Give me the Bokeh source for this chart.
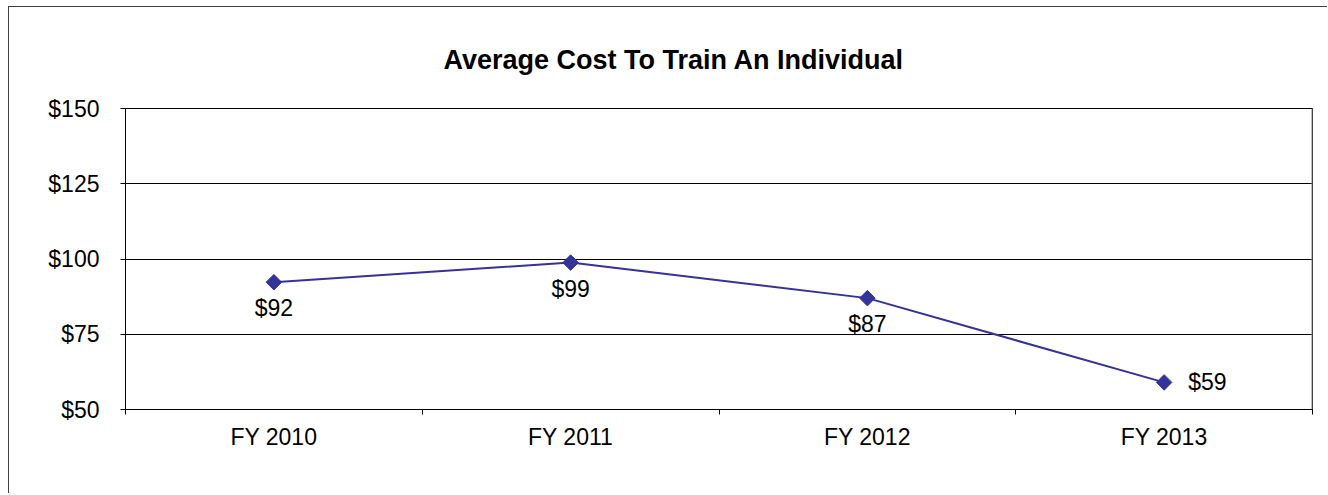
from bokeh.plotting import figure
from bokeh.models import (ColumnDataSource, FixedTicker, LabelSet, Range1d, Span,
                          NumeralTickFormatter)
from bokeh.core.properties import value
from bokeh.embed import file_html
from bokeh.resources import INLINE

categories = ["FY 2010", "FY 2011", "FY 2012", "FY 2013"]
costs = [92.3, 98.8, 87.0, 59.0]
cost_labels = ["$92", "$99", "$87", "$59"]
y_ticks = [50, 75, 100, 125, 150]
title_text = "Average Cost To Train An Individual"

FONT = "Liberation Sans"
LINE = "#333399"
FS = "23px"

xs = [i + 0.5 for i in range(len(categories))]

p = figure(width=1319, height=487, output_backend="svg", toolbar_location=None,
           x_range=Range1d(0, len(categories)), y_range=Range1d(50, 150),
           min_border_left=116, min_border_right=16, min_border_top=101,
           min_border_bottom=85)
p.styles = {"border-left": "1px solid #404040", "border-top": "1px solid #404040",
            "margin-left": "8px", "margin-top": "6px"}

p.title.text = title_text
p.title.text_font = FONT
p.title.text_font_size = "27px"
p.title.text_font_style = "bold"
p.title.text_color = "black"
p.title.align = "left"
p.title.offset = 318
p.title.standoff = 68

p.outline_line_color = "black"
p.outline_line_width = 1
p.xgrid.visible = False
p.ygrid.grid_line_color = "black"
p.ygrid.grid_line_width = 1
p.ygrid.ticker = FixedTicker(ticks=y_ticks)

# y axis
p.yaxis.ticker = FixedTicker(ticks=y_ticks, minor_ticks=[])
p.yaxis.formatter = NumeralTickFormatter(format="$0")
p.yaxis.major_label_text_font = FONT
p.yaxis.major_label_text_font_size = FS
p.yaxis.major_label_text_color = "black"
p.yaxis.major_tick_in = 0
p.yaxis.major_tick_out = 5
p.yaxis.minor_tick_line_color = None
p.yaxis.major_label_standoff = 21
p.yaxis.axis_line_color = "black"
p.yaxis.major_tick_line_color = "black"

# x axis: labels at centers, tick marks at boundaries
p.xaxis.ticker = FixedTicker(ticks=xs, minor_ticks=list(range(len(categories) + 1)))
p.xaxis.major_label_overrides = {x: c for x, c in zip(xs, categories)}
p.xaxis.major_label_text_font = FONT
p.xaxis.major_label_text_font_size = FS
p.xaxis.major_label_text_color = "black"
p.xaxis.major_tick_line_color = None
p.xaxis.major_tick_in = 0
p.xaxis.major_tick_out = 0
p.xaxis.minor_tick_line_color = "black"
p.xaxis.minor_tick_in = 0
p.xaxis.minor_tick_out = 5
p.xaxis.major_label_standoff = 9
p.xaxis.axis_line_color = "black"

p.add_layout(Span(location=len(categories), dimension="height",
                  line_color="#808080", line_width=2))

src = ColumnDataSource(dict(x=xs, y=costs, lab=cost_labels))
p.line("x", "y", source=src, line_color=LINE, line_width=2)
p.scatter("x", "y", source=src, marker="square", size=11, angle=0.785398,
          fill_color=LINE, line_color=LINE)

below = ColumnDataSource(dict(x=xs[:3], y=costs[:3], lab=cost_labels[:3]))
right = ColumnDataSource(dict(x=xs[3:], y=costs[3:], lab=cost_labels[3:]))
p.add_layout(LabelSet(x="x", y="y", text="lab", source=below,
                      text_align="center", text_baseline="middle", y_offset=-26,
                      text_font=value(FONT), text_font_size=FS, text_color="black"))
p.add_layout(LabelSet(x="x", y="y", text="lab", source=right,
                      text_align="left", text_baseline="middle", x_offset=24,
                      text_font=value(FONT), text_font_size=FS, text_color="black"))

open("out.html", "w").write(file_html(p, INLINE))
